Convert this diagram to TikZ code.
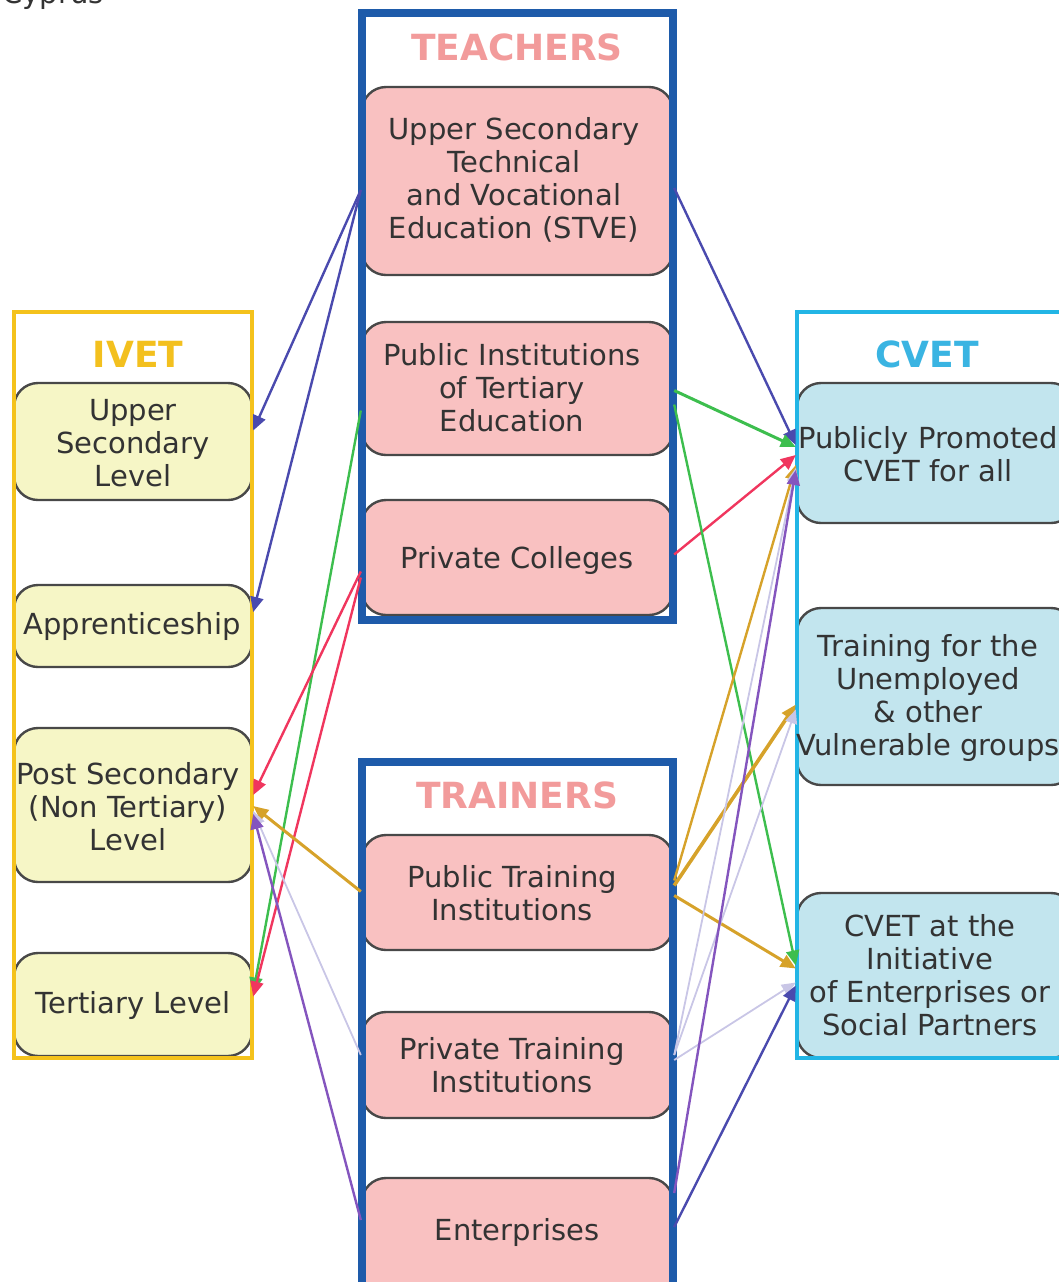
\documentclass[tikz,border=0pt]{standalone}
\usepackage{fontspec}
\setmainfont{DejaVu Sans}
\usetikzlibrary{arrows.meta,calc,fit}
\definecolor{ivetY}{HTML}{F4C21C}
\definecolor{ivetFill}{HTML}{F6F6C6}
\definecolor{teachB}{HTML}{1E5BAA}
\definecolor{pinkFill}{HTML}{F9C1C1}
\definecolor{cvetC}{HTML}{22B5E5}
\definecolor{blueFill}{HTML}{C2E5EE}
\definecolor{teachT}{HTML}{F29B9B}
\definecolor{ivetT}{HTML}{F3C01E}
\definecolor{cvetT}{HTML}{3AB4E2}
\definecolor{txt}{HTML}{333333}
\definecolor{innerGray}{HTML}{484848}
\definecolor{blueA}{HTML}{4A4AAE}
\definecolor{greenA}{HTML}{3DBE4E}
\definecolor{redA}{HTML}{F0365E}
\definecolor{goldA}{HTML}{D6A22A}
\definecolor{lavA}{HTML}{C9C6E6}
\definecolor{purpA}{HTML}{8455BE}
\begin{document}
\begin{tikzpicture}[x=0.5pt,y=-0.5pt,
  innerbox/.style={draw=innerGray, line width=1.2pt, rounded corners=12pt, inner sep=0pt},
  yelbox/.style={innerbox, fill=ivetFill},
  pinkbox/.style={innerbox, fill=pinkFill},
  bluebox/.style={innerbox, fill=blueFill},
  ivetframe/.style={draw=ivetY, line width=2pt, inner sep=0pt},
  teachframe/.style={draw=teachB, line width=4pt, inner sep=0pt},
  cvetframe/.style={draw=cvetC, line width=2pt, inner sep=0pt},
  boxtext/.style={font={\fontsize{14.5}{16.5}\selectfont}, text=txt, align=center, inner sep=0pt},
  titletext/.style={font={\fontsize{18}{20}\selectfont\bfseries}, inner sep=0pt},
  conn/.style={line width=1.2pt, -{Triangle[length=7.5pt,width=6.5pt]}},
  thinconn/.style={line width=0.9pt, -{Triangle[length=7pt,width=6pt]}}
]
\useasboundingbox (0,0) rectangle (1059,1282);
\clip (0,0) rectangle (1059,1282);

\node[boxtext, anchor=base west] (cyprus) at (2,3) {Cyprus};

% IVET inner boxes
\node[yelbox, fit={(14,383) (252,500)}] (ivet1) {};
\node[yelbox, fit={(14,585) (252,667)}] (ivet2) {};
\node[yelbox, fit={(14,728) (252,882)}] (ivet3) {};
\node[yelbox, fit={(14,953) (252,1056)}] (ivet4) {};
\node[ivetframe, fit={(14,312) (252,1058)}] (ivet) {};

% TEACHERS inner boxes
\node[pinkbox, fit={(362,87) (673,275)}] (t1) {};
\node[pinkbox, fit={(362,322) (673,455)}] (t2) {};
\node[pinkbox, fit={(362,500) (673,615)}] (t3) {};
\node[teachframe, fit={(362,13) (673,620)}] (teach) {};

% TRAINERS inner boxes
\node[pinkbox, fit={(362,835) (673,950)}] (r1) {};
\node[pinkbox, fit={(362,1012) (673,1118)}] (r2) {};
\node[pinkbox, fit={(362,1178) (673,1300)}] (r3) {};
\node[teachframe, fit={(362,762) (673,1300)}] (train) {};

% CVET inner boxes
\node[bluebox, fit={(797,383) (1075,523)}] (c1) {};
\node[bluebox, fit={(797,608) (1075,785)}] (c2) {};
\node[bluebox, fit={(797,893) (1075,1058)}] (c3) {};
\node[cvetframe, fit={(797,312) (1075,1058)}] (cvet) {};

% titles
\node[titletext, text=ivetT] (ivetTitle) at (138,354) {IVET};
\node[titletext, text=teachT] (teachTitle) at (517,47) {TEACHERS};
\node[titletext, text=teachT] (trainTitle) at (517,795) {TRAINERS};
\node[titletext, text=cvetT] (cvetTitle) at (927,354) {CVET};

% texts
\node[boxtext] (ivet1t) at (133,443) {Upper\\Secondary\\Level};
\node[boxtext] (ivet2t) at (132,626) {Apprenticeship};
\node[boxtext] (ivet3t) at (128,807) {Post Secondary\\(Non Tertiary)\\Level};
\node[boxtext] (ivet4t) at (133,1005) {Tertiary Level};

\node[boxtext] (t1t) at (514,180) {Upper Secondary\\Technical\\and Vocational\\Education (STVE)};
\node[boxtext] (t2t) at (512,388) {Public Institutions\\of Tertiary\\Education};
\node[boxtext] (t3t) at (517,560) {Private Colleges};

\node[boxtext] (r1t) at (512,893) {Public Training\\Institutions};
\node[boxtext] (r2t) at (512,1065) {Private Training\\Institutions};
\node[boxtext] (r3t) at (517,1232) {Enterprises};

\node[boxtext] (c1t) at (928,454) {Publicly Promoted\\CVET for all};
\node[boxtext] (c2t) at (928,698) {Training for the\\Unemployed\\\& other\\Vulnerable groups};
\node[boxtext] (c3t) at (930,975) {CVET at the\\Initiative\\of Enterprises or\\Social Partners};

% left connectors
\draw[conn, blueA] ($(t1.west)+(0,9)$) -- ($(ivet1.east)+(0,-11)$);
\draw[conn, blueA] ($(t1.west)+(0,9)$) -- ($(ivet2.east)+(0,-14)$);
\draw[conn, greenA] ($(t2.west)+(0,22)$) -- ($(ivet4.east)+(0,-12)$);
\draw[conn, redA] ($(t3.west)+(0,14)$) -- ($(ivet3.east)+(0,-10)$);
\draw[conn, redA] ($(t3.west)+(0,20)$) -- ($(ivet4.east)+(0,-8)$);
\draw[conn, goldA, line width=1.5pt] ($(r1.west)+(0,-1)$) -- ($(ivet3.east)+(0,1)$);
\draw[thinconn, lavA] ($(r2.west)+(0,-10)$) -- ($(ivet3.east)+(0,6)$);
\draw[conn, purpA] ($(r3.west)+(0,-19)$) -- ($(ivet3.east)+(0,9)$);

% right connectors
\draw[conn, blueA] ($(t1.east)+(0,7)$) -- ($(c1.west)+(0,-8)$);
\draw[conn, greenA, line width=1.5pt] ($(t2.east)+(0,2)$) -- ($(c1.west)+(0,-6)$);
\draw[conn, redA] ($(t3.east)+(0,-3)$) -- ($(c1.west)+(0,2)$);
\draw[conn, greenA] ($(t2.east)+(0,16)$) -- ($(c3.west)+(0,-10)$);
\draw[conn, goldA] ($(r1.east)+(0,-12)$) -- ($(c1.west)+(0,12)$);
\draw[conn, goldA, line width=1.8pt] ($(r1.east)+(0,-7)$) -- ($(c2.west)+(0,8)$);
\draw[conn, goldA, line width=1.5pt] ($(r1.east)+(0,3)$) -- ($(c3.west)+(0,-7)$);
\draw[thinconn, lavA] ($(r2.east)+(0,-10)$) -- ($(c1.west)+(0,15)$);
\draw[thinconn, lavA] ($(r2.east)+(0,-10)$) -- ($(c2.west)+(0,13)$);
\draw[thinconn, lavA] ($(r2.east)+(0,-5)$) -- ($(c3.west)+(0,7)$);
\draw[conn, purpA] ($(r3.east)+(0,-46)$) -- ($(c1.west)+(0,17)$);
\draw[conn, blueA] ($(r3.east)+(0,-12)$) -- ($(c3.west)+(0,10)$);
\end{tikzpicture}
\end{document}
